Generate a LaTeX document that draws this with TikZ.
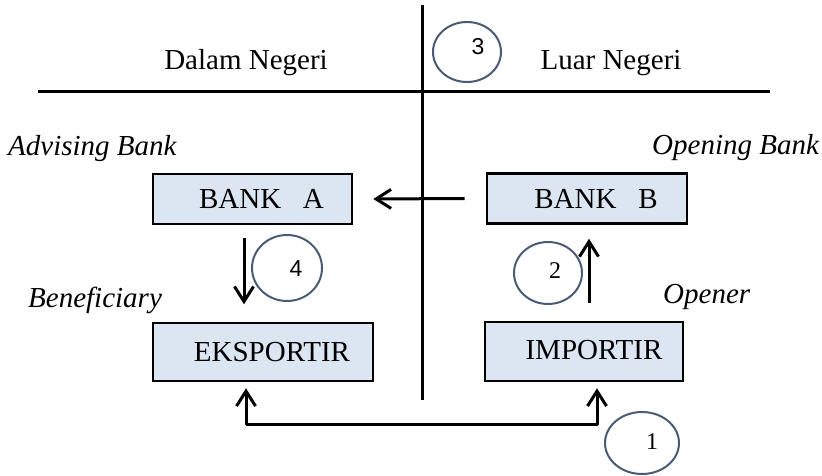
\documentclass[tikz,border=0pt]{standalone}
\usepackage{fontspec}
\setmainfont{Liberation Serif}
\newfontfamily\digitsans{Liberation Sans}
\usetikzlibrary{arrows.meta,calc,shapes.geometric}
\definecolor{boxfill}{HTML}{DCE6F2}
\definecolor{ringcol}{HTML}{4A5B74}
\tikzset{openbarb/.tip={Straight Barb[length=15pt,width=19pt,line width=3pt]}}
\begin{document}
\begin{tikzpicture}[x=1pt,y=-1pt,
  big/.style={font=\fontsize{29}{34}\selectfont},
  box/.style={big,draw=black,line width=2.6pt,fill=boxfill,inner sep=0pt},
  tag/.style={font=\fontsize{29}{34}\selectfont\itshape,inner sep=0pt},
  region/.style={big,inner sep=0pt,anchor=base},
  rule/.style={line width=3pt,draw=black},
  ring/.style={ellipse,draw=ringcol,line width=2pt,inner sep=0pt},
  numserif/.style={font=\fontsize{24}{26}\selectfont,inner sep=0pt},
  numsans/.style={font=\fontsize{23}{26}\selectfont\digitsans,inner sep=0pt},
  flow/.style={line width=3pt,line join=round,-{openbarb}},
  flowboth/.style={line width=3pt,line join=round,{openbarb}-{openbarb}}
]
\useasboundingbox (0,0) rectangle (822,476);

% dividing lines between the two territories
\draw[rule] (38,92) -- (770,92);
\draw[rule] (422,5) -- (422,400);

% region headings
\node[region] (dn) at (246,70) {Dalam Negeri};
\node[region] (ln) at (611,70) {Luar Negeri};

% parties
\node[box,minimum width=199pt,minimum height=50pt] (bankA) at (252.5,199)
  {\raisebox{-4pt}{\hspace*{18pt}BANK\hspace{0.75em}A}};
\node[box,minimum width=200pt,minimum height=50pt] (bankB) at (587,198.5)
  {\raisebox{-4pt}{\hspace*{18pt}BANK\hspace{0.75em}B}};
\node[box,minimum width=220pt,minimum height=58pt] (eks) at (263,352)
  {\hspace*{18pt}EKSPORTIR};
\node[box,minimum width=198pt,minimum height=59pt] (imp) at (584,351.5)
  {\raisebox{3pt}{\hspace*{20pt}IMPORTIR}};

% role captions
\node[tag,anchor=base west] (adv) at (8,156) {Advising Bank};
\node[tag,anchor=base west] (opb) at (652,155) {Opening Bank};
\node[tag,anchor=base west] (ben) at (28,307) {Beneficiary};
\node[tag,anchor=base west] (opn) at (663,303) {Opener};

% flow of the letter of credit
\draw[flow] ($(bankB.west)+(-21,0)$) -- ($(bankA.east)+(20,0)$);
\draw[flow] ($(bankA.south)+(-8.5,13)$) -- ($(bankA.south)+(-8.5,79)$);
\draw[flow] ($(imp.north)+(5,-18)$) -- ($(bankB.south)+(2,14)$);
\draw[flowboth] ($(eks.south)+(-17,6)$) |- ($(imp.south)+(13,42)$)
  -- ($(imp.south)+(13,6)$);

% step numbers
\node[ring,minimum width=68pt,minimum height=60pt] (c3) at (467,52) {};
\node[numsans] at ($(c3)+(11,-5)$) {3};
\node[ring,minimum width=70pt,minimum height=66pt] (c4) at (287,268) {};
\node[numsans] at ($(c4)+(9,1)$) {4};
\node[ring,minimum width=68pt,minimum height=62pt] (c2) at (548,273) {};
\node[numserif] at ($(c2)+(7,-2)$) {2};
\node[ring,minimum width=74pt,minimum height=62pt] (c1) at (642,443) {};
\node[numserif] at ($(c1)+(10,-1)$) {1};
\end{tikzpicture}
\end{document}
